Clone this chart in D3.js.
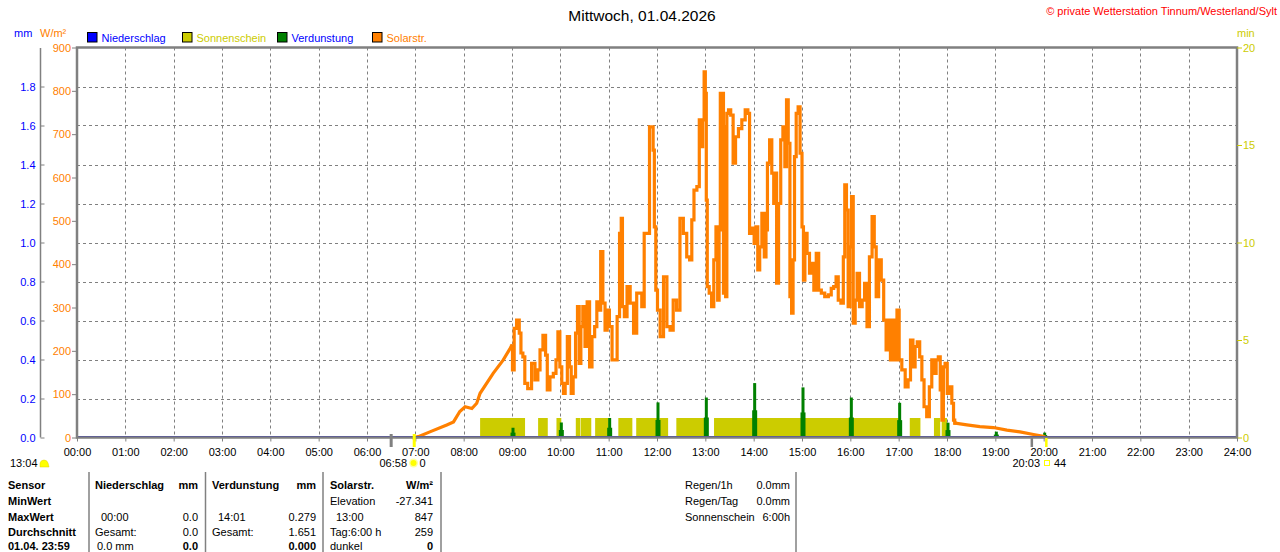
<!DOCTYPE html>
<html><head><meta charset="utf-8">
<script src="https://cdn.jsdelivr.net/npm/d3@7"></script>
<style>
html,body{margin:0;padding:0;background:#fff;}
svg text{font-family:"Liberation Sans",Arial,sans-serif;font-size:11px;}
</style></head>
<body>
<svg id="c" width="1280" height="552"></svg>
<script>
// ---------------- DATA ----------------
const title = "Mittwoch, 01.04.2026";
const credit = "\u00a9 private Wetterstation Tinnum/Westerland/Sylt";
const hourTicks = d3.range(0, 25);
const mmTicks = [0,0.2,0.4,0.6,0.8,1.0,1.2,1.4,1.6,1.8];
const wTicks = [0,100,200,300,400,500,600,700,800,900];
const minTicks = [0,5,10,15,20];
const legendNames = ["Niederschlag","Sonnenschein","Verdunstung","Solarstr."];
const legendColors = ["#0000ff","#cccc00","#008000","#ff8000"];
const legendTextColors = ["#0000ff","#cccc00","#0000ff","#ff8000"];

// Solar radiation (hours, W/m2)
const solarHours = [6.97,7.06,7.30,7.65,7.79,7.92,8.03,8.17,8.27,8.34,8.61,8.82,8.99,9.03,9.06,9.13,9.17,9.20,9.25,9.28,9.37,9.44,9.51,9.56,9.60,9.68,9.71,9.75,9.82,9.89,9.93,9.97,10.01,10.05,10.08,10.12,10.17,10.21,10.24,10.29,10.34,10.37,10.41,10.44,10.49,10.53,10.58,10.63,10.68,10.74,10.77,10.81,10.86,10.90,10.95,10.99,11.04,11.10,11.15,11.20,11.25,11.27,11.30,11.35,11.41,11.48,11.55,11.61,11.65,11.72,11.75,11.80,11.89,11.91,11.93,11.96,11.99,12.03,12.10,12.17,12.24,12.30,12.37,12.44,12.51,12.58,12.65,12.70,12.74,12.79,12.86,12.89,12.93,12.96,12.99,13.01,13.03,13.05,13.11,13.15,13.20,13.24,13.27,13.30,13.32,13.36,13.39,13.41,13.43,13.46,13.50,13.55,13.60,13.65,13.72,13.79,13.86,13.90,13.93,13.99,14.03,14.06,14.11,14.14,14.20,14.24,14.27,14.30,14.36,14.39,14.44,14.46,14.49,14.54,14.58,14.63,14.66,14.70,14.73,14.77,14.80,14.83,14.86,14.90,14.94,14.98,15.02,15.04,15.08,15.13,15.18,15.22,15.27,15.32,15.37,15.43,15.51,15.58,15.63,15.68,15.73,15.77,15.84,15.87,15.90,15.94,15.97,16.01,16.04,16.08,16.12,16.16,16.22,16.27,16.32,16.37,16.42,16.48,16.51,16.56,16.61,16.67,16.71,16.77,16.81,16.85,16.90,16.94,16.99,17.03,17.10,17.17,17.22,17.27,17.32,17.36,17.41,17.46,17.50,17.55,17.61,17.66,17.71,17.75,17.80,17.84,17.88,17.91,17.94,17.98,18.03,18.08,18.12,18.15,18.17,18.41,18.68,18.96,19.24,19.51,19.79,19.99,20.05];
const solarValues = [0,2,13,29,36,60,71,67,79,102,148,179,211,156,252,271,241,195,186,125,113,171,133,156,202,236,190,110,140,148,179,244,163,125,102,125,233,163,102,140,241,302,171,256,302,210,313,163,233,256,313,294,429,310,248,294,256,179,179,279,471,506,302,279,348,310,241,333,333,302,471,471,717,717,663,486,340,294,233,371,256,248,317,294,506,471,417,410,502,571,579,733,671,733,844,794,548,348,333,302,410,486,317,479,794,794,333,717,325,748,756,744,633,694,713,733,756,748,471,483,448,486,387,440,517,417,479,633,687,610,540,610,356,540,687,717,625,779,679,325,287,410,648,748,763,656,486,363,471,425,379,402,340,425,340,333,325,329,344,348,371,317,310,417,583,525,302,440,556,264,317,379,302,317,356,256,417,510,440,325,410,363,271,202,271,179,271,179,294,179,156,117,133,225,163,210,221,186,133,71,48,117,179,148,179,186,110,40,163,171,102,117,79,40,33,29,25,23,17,13,7,3,0];

// Sunshine minutes (periods with sun, 1 min per minute)
const sunStart = [8.34,9.54,9.92,10.32,10.42,10.72,11.20,11.57,12.05,12.40,13.18,17.23,17.73,17.89];
const sunEnd   = [9.27,9.74,10.02,10.41,10.64,11.00,11.49,12.00,12.23,13.00,17.00,17.45,17.86,18.00];
const sunValue = 1;

// Evaporation (hour, mm)
const evapHours  = [9,10,11,12,13,14,15,16,17,18,19,20];
const evapValues = [0.05,0.077,0.10,0.18,0.205,0.279,0.257,0.205,0.178,0.076,0.03,0.025];

// Astronomical marks
const dawnHour = 6.5, sunriseHour = 6 + 58/60, sunsetHour = 20 + 3/60, duskHour = 19.75;

// Table
const tableRows = [
  [{t:"Sensor",x:8,b:1},{t:"Niederschlag",x:95,b:1},{t:"mm",x:198,b:1,r:1},{t:"Verdunstung",x:212,b:1},{t:"mm",x:316,b:1,r:1},{t:"Solarstr.",x:330,b:1},{t:"W/m\u00b2",x:433,b:1,r:1}],
  [{t:"MinWert",x:8,b:1},{t:"Elevation",x:330},{t:"-27.341",x:433,r:1}],
  [{t:"MaxWert",x:8,b:1},{t:"00:00",x:101},{t:"0.0",x:198,r:1},{t:"14:01",x:218},{t:"0.279",x:316,r:1},{t:"13:00",x:336},{t:"847",x:433,r:1}],
  [{t:"Durchschnitt",x:8,b:1},{t:"Gesamt:",x:95},{t:"0.0",x:198,r:1},{t:"Gesamt:",x:212},{t:"1.651",x:316,r:1},{t:"Tag:6:00 h",x:330},{t:"259",x:433,r:1}],
  [{t:"01.04. 23:59",x:8,b:1},{t:"0.0 mm",x:97},{t:"0.0",x:198,b:1,r:1},{t:"0.000",x:316,b:1,r:1},{t:"dunkel",x:330},{t:"0",x:433,b:1,r:1}]
];
const sideLabels = ["Regen/1h","Regen/Tag","Sonnenschein"];
const sideValues = ["0.0mm","0.0mm","6:00h"];

// ---------------- DRAW ----------------
const svg = d3.select("#c");
const L = 77, R = 1237, T = 47.5, B = 437.5;
const x = d3.scaleLinear().domain([0,24]).range([L,R]);
const yW = d3.scaleLinear().domain([0,900]).range([B,T]);
const yMm = d3.scaleLinear().domain([0,2]).range([B,T]);
const yMin = d3.scaleLinear().domain([0,20]).range([B,T]);
const gray = "#808080";

// title & credit
svg.append("text").attr("x",642).attr("y",21).attr("text-anchor","middle")
  .style("font-size","15.5px").attr("fill","#000").text(title);
svg.append("text").attr("x",1277).attr("y",15).attr("text-anchor","end")
  .attr("fill","#ff0000").text(credit);

// unit labels
svg.append("text").attr("x",14).attr("y",37).attr("fill","#0000ff").text("mm");
svg.append("text").attr("x",40).attr("y",37).attr("fill","#ff8000").text("W/m\u00b2");
svg.append("text").attr("x",1237).attr("y",37).attr("fill","#cccc00").text("min");

// legend
const legX = [87.5,182.5,277.5,372.5];
legendNames.forEach((n,i)=>{
  svg.append("rect").attr("x",legX[i]).attr("y",32.5).attr("width",9.5).attr("height",9.5)
    .attr("fill",legendColors[i]).attr("stroke","#000").attr("stroke-width",1);
  svg.append("text").attr("x",legX[i]+14).attr("y",42).attr("fill",legendTextColors[i]).text(n);
});

// grid
const grid = svg.append("g").attr("stroke",gray).attr("stroke-width",1).attr("stroke-dasharray","3,3");
hourTicks.filter(h=>h>0&&h<24).forEach(h=>{
  grid.append("line").attr("x1",Math.round(x(h))+0.5).attr("x2",Math.round(x(h))+0.5).attr("y1",T).attr("y2",B);
});
mmTicks.filter(v=>v>0).forEach(v=>{
  grid.append("line").attr("x1",L).attr("x2",R).attr("y1",Math.round(yMm(v))+0.5).attr("y2",Math.round(yMm(v))+0.5);
});

// sunshine bars
svg.append("g").selectAll("rect").data(sunStart).join("rect")
  .attr("x",(d)=>x(d)).attr("width",(d,i)=>x(sunEnd[i])-x(d))
  .attr("y",yMin(sunValue)).attr("height",yMin(0)-yMin(sunValue)).attr("fill","#cccc00");

// evaporation spikes
const eg = svg.append("g").attr("fill","#008000");
evapHours.forEach((h,i)=>{
  const v = evapValues[i];
  eg.append("rect").attr("x",x(h)-1.5).attr("width",5).attr("y",yMm(v/2)).attr("height",yMm(0)-yMm(v/2));
  eg.append("rect").attr("x",x(h)-0.5).attr("width",3).attr("y",yMm(v)).attr("height",yMm(0)-yMm(v));
});

// solar line: smooth ramps at dawn/dusk, stepped in the noisy daytime part
const pts = solarValues.map((v,i)=>[solarHours[i],v]);
const rampA = pts.filter(p=>p[0]<=8.99);
const noisy = pts.filter(p=>p[0]>=8.99 && p[0]<=18.17);
const rampB = pts.filter(p=>p[0]>=18.17);
const lineLin = d3.line().x(p=>x(p[0])).y(p=>yW(p[1]));
const lineStep = d3.line().x(p=>x(p[0])).y(p=>yW(p[1])).curve(d3.curveStep);
[[rampA,lineLin],[noisy,lineStep],[rampB,lineLin]].forEach(([d,gen])=>{
  svg.append("path").datum(d).attr("d",gen).attr("fill","none")
    .attr("stroke","#ff8000").attr("stroke-width",3.2).attr("stroke-linejoin","miter").attr("stroke-linecap","square");
});

// precipitation zero line
svg.append("line").attr("x1",L).attr("x2",R).attr("y1",B-0.5).attr("y2",B-0.5)
  .attr("stroke","#0000cc").attr("stroke-width",2);

// border
svg.append("rect").attr("x",L).attr("y",T).attr("width",R-L).attr("height",B-T)
  .attr("fill","none").attr("stroke",gray).attr("stroke-width",2.5);

// axes
function style(g,color){
  g.select(".domain").remove();
  g.selectAll(".tick line").attr("stroke",gray);
  g.selectAll(".tick text").attr("fill",color).style("font-size","11px")
    .style("font-family","'Liberation Sans',Arial,sans-serif");
}
const mmAxis = svg.append("g").attr("transform","translate(40.5,0)")
  .call(d3.axisLeft(yMm).tickValues(mmTicks).tickFormat(d3.format(".1f")).tickSizeInner(-4).tickSizeOuter(0).tickPadding(5));
style(mmAxis,"#0000ff");
svg.append("line").attr("x1",40.5).attr("x2",40.5).attr("y1",48).attr("y2",B).attr("stroke",gray).attr("stroke-width",1.5);

const wAxis = svg.append("g").attr("transform",`translate(${L},0)`)
  .call(d3.axisLeft(yW).tickValues(wTicks).tickFormat(d3.format("d")).tickSize(5).tickPadding(1));
style(wAxis,"#ff8000");

const minAxis = svg.append("g").attr("transform",`translate(${R},0)`)
  .call(d3.axisRight(yMin).tickValues(minTicks).tickFormat(d3.format("d")).tickSize(5).tickPadding(1));
style(minAxis,"#cccc00");
minAxis.selectAll(".tick line").attr("stroke","#cccc00");

const xAxis = svg.append("g").attr("transform",`translate(0,${B})`)
  .call(d3.axisBottom(x).tickValues(hourTicks).tickFormat(d=>String(d).padStart(2,"0")+":00").tickSize(4).tickPadding(7));
style(xAxis,"#000");

// astronomical marks
svg.append("rect").attr("x",x(dawnHour)-1.5).attr("y",434).attr("width",3).attr("height",13).attr("fill",gray);
svg.append("rect").attr("x",x(sunriseHour)-1).attr("y",434).attr("width",3).attr("height",13).attr("fill","#ffff00");
svg.append("rect").attr("x",x(duskHour)-1).attr("y",438).attr("width",2.5).attr("height",9).attr("fill",gray);
svg.append("rect").attr("x",x(sunsetHour)-1).attr("y",438).attr("width",2.5).attr("height",9).attr("fill","#ffff00");

// annotations under axis
svg.append("text").attr("x",10).attr("y",467).text("13:04");
svg.append("path").attr("d","M40,467 L40,463 Q41,460 44,460 Q47,460 48,463 L49,467 Z").attr("fill","#ffff00").attr("stroke","#e0d000").attr("stroke-width",0.5);
svg.append("text").attr("x",407).attr("y",467).attr("text-anchor","end").text("06:58");
svg.append("circle").attr("cx",413.5).attr("cy",463).attr("r",4.5).attr("fill","#ffffa0");
svg.append("circle").attr("cx",413.5).attr("cy",463).attr("r",3).attr("fill","#ffff00");
svg.append("text").attr("x",419.5).attr("y",467).text("0");
svg.append("text").attr("x",1040).attr("y",467).attr("text-anchor","end").text("20:03");
svg.append("rect").attr("x",1044.5).attr("y",460.5).attr("width",5).attr("height",5).attr("fill","none").attr("stroke","#ffff00").attr("stroke-width",1);
svg.append("text").attr("x",1054).attr("y",467).text("44");

// table separators
[89,205.5,323,441,796].forEach(px=>{
  svg.append("line").attr("x1",px).attr("x2",px).attr("y1",472).attr("y2",552).attr("stroke",gray).attr("stroke-width",1.5);
});
const rowY = [489,505,521,536,550];
tableRows.forEach((row,ri)=>{
  row.forEach(c=>{
    svg.append("text").attr("x",c.x).attr("y",rowY[ri]).attr("text-anchor",c.r?"end":"start")
      .style("font-weight",c.b?"bold":"normal").attr("fill","#000").text(c.t);
  });
});
sideLabels.forEach((s,i)=>{
  svg.append("text").attr("x",685).attr("y",rowY[i]).text(s);
  svg.append("text").attr("x",790).attr("y",rowY[i]).attr("text-anchor","end").text(sideValues[i]);
});
</script>
</body></html>
